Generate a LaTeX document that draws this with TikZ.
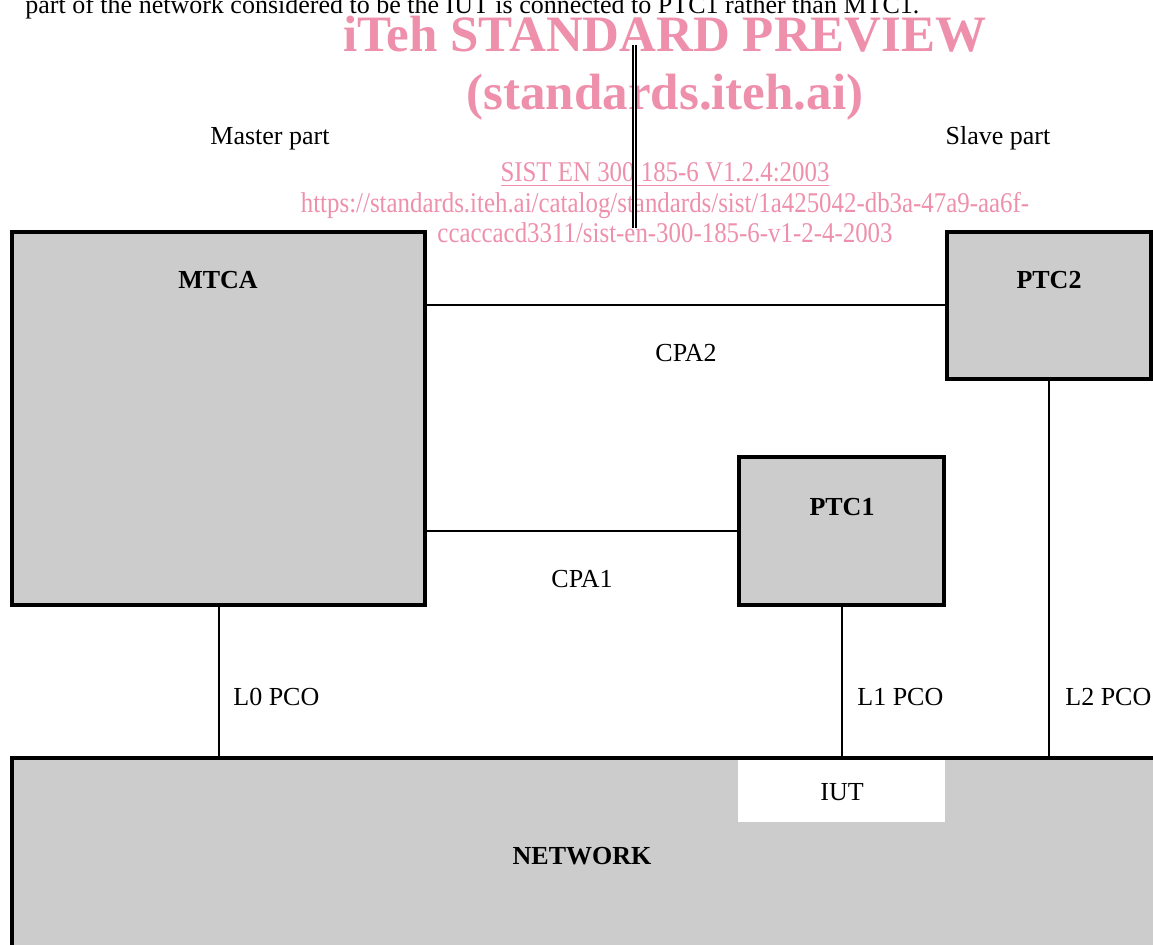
\documentclass[tikz,border=0pt]{standalone}
\usepackage{fontspec}
\setmainfont{Liberation Serif}
\definecolor{wmpink}{RGB}{238,143,172}
\definecolor{boxgray}{RGB}{204,204,204}
\newcommand{\narrow}[1]{\scalebox{0.87}[1]{#1}}
\begin{document}
\begin{tikzpicture}[x=0.5pt, y=-0.5pt,
    every node/.style={inner sep=0pt, font=\fontsize{13}{15}\selectfont},
    unit/.style={draw, line width=2pt, fill=boxgray},
    wmark/.style={text=wmpink, anchor=base}]
    \useasboundingbox (0,0) rectangle (1153,945);
    \clip (0,0) rectangle (1153,945);

    % Watermark and intro text
    \node[anchor=base west] (intro) at (25,14) {part of the network considered to be the IUT is connected to PTC1 rather than MTC1.};
    \node[wmark, font=\fontsize{25.5}{28}\selectfont\bfseries] (wm1) at (665,52) {iTeh STANDARD PREVIEW};
    \node[wmark, font=\fontsize{25.5}{28}\selectfont\bfseries] (wm2) at (665,110) {(standards.iteh.ai)};
    \node[wmark, font=\fontsize{14.3}{16}\selectfont] (wm3) at (665,182) {\narrow{\underline{SIST EN 300 185-6 V1.2.4:2003}}};
    \node[wmark, font=\fontsize{14.3}{16}\selectfont] (wm4) at (665,213) {\narrow{https://standards.iteh.ai/catalog/standards/sist/1a425042-db3a-47a9-aa6f-}};
    \node[wmark, font=\fontsize{14.3}{16}\selectfont] (wm5) at (665,243) {\narrow{ccaccacd3311/sist-en-300-185-6-v1-2-4-2003}};

    % Separator between the parts
    \coordinate (septop) at (634.5,45);
    \coordinate (sepbot) at (634.5,228);
    \draw[double, line width=0.75pt, double distance=0.6pt] (septop) -- (sepbot);
    \node[anchor=base] (master) at (270,145) {Master part};
    \node[anchor=base] (slave) at (998,145) {Slave part};

    % Test components
    \node[unit, minimum width=206.5pt, minimum height=186.5pt] (mtca) at (218.5,418.5) {};
    \node[unit, minimum width=102pt, minimum height=73.5pt] (ptc2) at (1049,305.5) {};
    \node[unit, minimum width=102.5pt, minimum height=74pt] (ptc1) at (841.5,531) {};
    \node[anchor=base, font=\fontsize{13}{15}\selectfont\bfseries] (mtcaname) at (218,289) {MTCA};
    \node[anchor=base, font=\fontsize{13}{15}\selectfont\bfseries] (ptc2name) at (1049,289) {PTC2};
    \node[anchor=base, font=\fontsize{13}{15}\selectfont\bfseries] (ptc1name) at (842,516) {PTC1};

    % Network
    \node[unit, minimum width=579pt, minimum height=111pt] (network) at (591,869) {};
    \node[fill=white, minimum width=103.5pt, minimum height=31pt] (iut) at (841.5,791) {};
    \node[anchor=base] (iutname) at (842,801) {IUT};
    \node[anchor=base, font=\fontsize{13}{15}\selectfont\bfseries] (netname) at (582,865) {NETWORK};

    % Coordination procedures
    \draw[line width=1pt] (ptc2.west) -- (ptc2.west -| mtca.east);
    \node[anchor=base] (cpa2) at (686,362) {CPA2};
    \draw[line width=1pt] (ptc1.west) -- (ptc1.west -| mtca.east);
    \node[anchor=base] (cpa1) at (582,588) {CPA1};

    % Points of control and observation
    \draw[line width=1pt] (mtca.south) -- (mtca.south |- network.north);
    \draw[line width=1pt] (ptc1.south) -- (ptc1.south |- network.north);
    \draw[line width=1pt] (ptc2.south) -- (ptc2.south |- network.north);
    \node[anchor=base west] (l0) at (233,706) {L0 PCO};
    \node[anchor=base west] (l1) at (857,706) {L1 PCO};
    \node[anchor=base west] (l2) at (1065,706) {L2 PCO};
\end{tikzpicture}
\end{document}
